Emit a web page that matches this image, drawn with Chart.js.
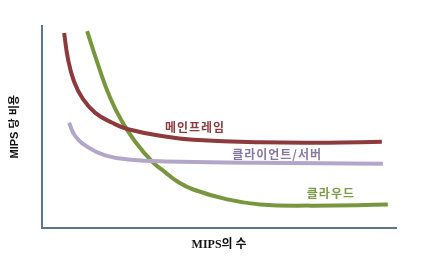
<!DOCTYPE html>
<html>
<head>
<meta charset="utf-8">
<script src="https://cdn.jsdelivr.net/npm/chart.js@4/dist/chart.umd.min.js"></script>
<style>
  html, body { margin: 0; padding: 0; background: #fff; }
  #wrap { width: 433px; height: 257px; }
</style>
</head>
<body>
<div id="wrap"><canvas id="costChart"></canvas></div>
<script>
// cost per MIPS vs number of MIPS (arbitrary units, 0-100 on both axes)
const seriesNames = ["메인프레임", "클라이언트/서버", "클라우드"];

const mainframeX = [6.2, 7.3, 9.0, 11.5, 15.0, 19.8, 24.3, 34.7, 42.7, 61.6, 80.5, 96.0];
const mainframeY = [96.5, 83.5, 72.5, 63.8, 56.9, 52.0, 48.8, 45.2, 43.6, 42.3, 42.1, 42.6];

const clientX = [7.6, 9.3, 13.0, 17.8, 24.3, 34.7, 60.0, 96.3];
const clientY = [52.0, 45.5, 39.8, 35.8, 33.8, 32.8, 32.2, 31.7];

const cloudX = [12.7, 15.8, 19.2, 22.6, 26.3, 31.1, 34.7, 38.1, 42.7, 52.3, 61.6, 75.7, 97.7];
const cloudY = [97.5, 80.7, 64.4, 52.5, 42.6, 32.7, 27.5, 23.0, 18.9, 14.0, 11.5, 10.9, 11.4];

const colors = ["#8c3a3c", "#b2a7ca", "#77963e"];
const labelColors = ["#8c3a3c", "#85789f", "#7c9c4a"];
// where each series name sits, in data units
const labelAt = [[43.2, 49.5], [66.4, 36.1], [81.6, 16.8]];

function pts(xs, ys) {
  return xs.map((x, i) => ({ x: x, y: ys[i] }));
}

const seriesLabels = {
  id: "seriesLabels",
  afterDatasetsDraw(chart) {
    const ctx = chart.ctx;
    const xs = chart.scales.x, ys = chart.scales.y;
    ctx.save();
    ctx.font = "bold 12px 'Noto Sans CJK KR'";
    ctx.letterSpacing = "1px";
    ctx.textAlign = "center";
    ctx.textBaseline = "middle";
    seriesNames.forEach((name, i) => {
      ctx.fillStyle = labelColors[i];
      ctx.fillText(name, xs.getPixelForValue(labelAt[i][0]), ys.getPixelForValue(labelAt[i][1]));
    });
    ctx.restore();
  }
};

const axisColor = "#5e7787";

new Chart(document.getElementById("costChart"), {
  type: "line",
  data: {
    datasets: [
      { label: seriesNames[0], data: pts(mainframeX, mainframeY), borderColor: colors[0] },
      { label: seriesNames[1], data: pts(clientX, clientY), borderColor: colors[1] },
      { label: seriesNames[2], data: pts(cloudX, cloudY), borderColor: colors[2] }
    ]
  },
  options: {
    responsive: true,
    maintainAspectRatio: false,
    animation: false,
    layout: { padding: { left: 2, right: 37, top: 26, bottom: 1 } },
    elements: {
      line: { borderWidth: 4, tension: 0.45, fill: false },
      point: { radius: 0 }
    },
    plugins: { legend: { display: false }, tooltip: { enabled: false } },
    scales: {
      x: {
        type: "linear", min: 0, max: 100,
        grid: { display: false, drawTicks: false },
        border: { display: true, color: axisColor, width: 2 },
        ticks: { display: false },
        title: {
          display: true, text: "MIPS의 수", color: "#111",
          font: { family: "'Liberation Serif', 'Noto Sans CJK KR'", size: 12, weight: "bold" },
          padding: { top: 10, bottom: 4 }
        }
      },
      y: {
        type: "linear", min: 0, max: 100,
        grid: { display: false, drawTicks: false },
        border: { display: true, color: axisColor, width: 2 },
        ticks: { display: false },
        title: {
          display: true, text: "MIPS 당 비용", color: "#111",
          font: { family: "'Liberation Sans', 'Noto Sans CJK KR'", size: 11, weight: "bold" },
          padding: { top: 6, bottom: 21 }
        }
      }
    }
  },
  plugins: [seriesLabels]
});
</script>
</body>
</html>
